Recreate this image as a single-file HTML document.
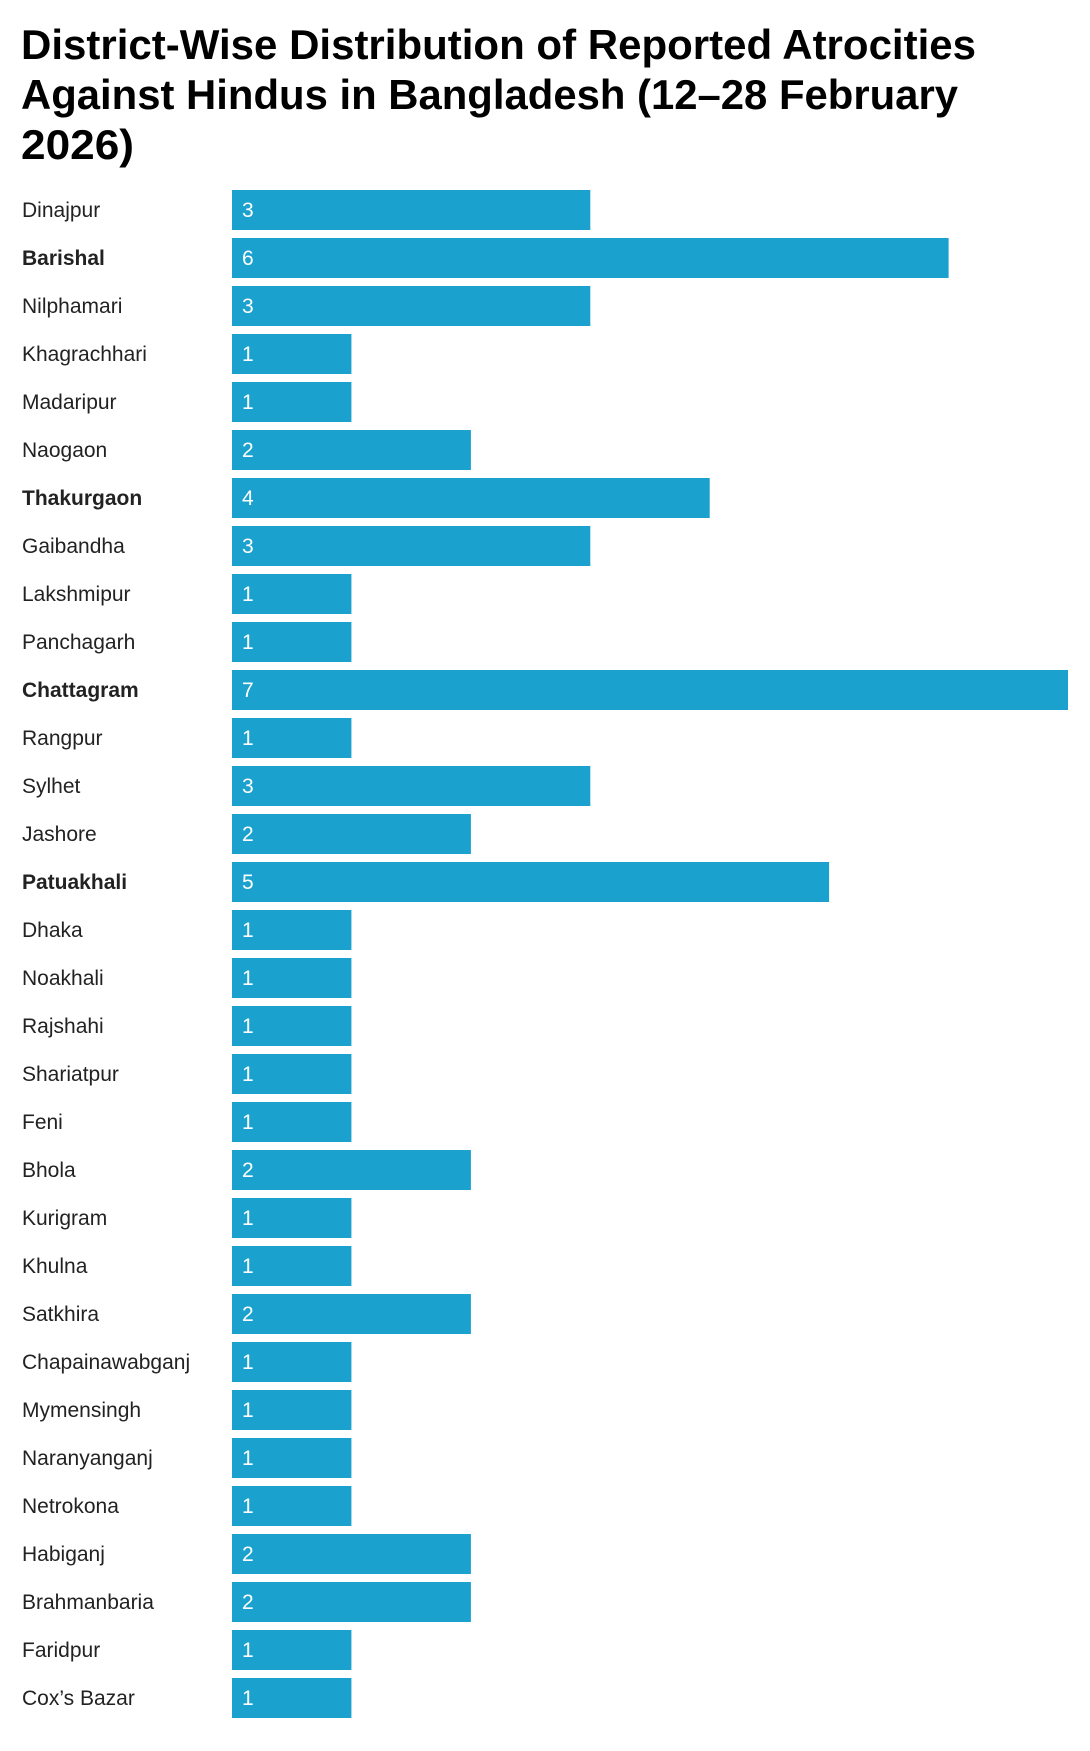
<!DOCTYPE html>
<html><head><meta charset="utf-8"><style>
html,body{margin:0;padding:0;background:#fff;}
svg{display:block;font-family:"Liberation Sans",Arial,sans-serif;}
.l{font-size:21px;fill:#222;}
.b{font-weight:bold;}
.v{font-size:21px;fill:#fff;}
rect{fill:#1aa1cd;}
</style></head><body>
<svg width="1090" height="1751" viewBox="0 0 1090 1751" xmlns="http://www.w3.org/2000/svg">
<g font-weight="bold" font-size="42" fill="#000">
<text x="21" y="59" textLength="955" lengthAdjust="spacingAndGlyphs">District-Wise Distribution of Reported Atrocities</text>
<text x="21" y="109" textLength="937" lengthAdjust="spacingAndGlyphs">Against Hindus in Bangladesh (12–28 February</text>
<text x="21" y="159" textLength="113" lengthAdjust="spacingAndGlyphs">2026)</text>
</g>
<text class="l" x="22" y="217">Dinajpur</text><rect x="232" y="190" width="358.3" height="40"/><text class="v" x="242" y="217">3</text>
<text class="l b" x="22" y="265">Barishal</text><rect x="232" y="238" width="716.6" height="40"/><text class="v" x="242" y="265">6</text>
<text class="l" x="22" y="313">Nilphamari</text><rect x="232" y="286" width="358.3" height="40"/><text class="v" x="242" y="313">3</text>
<text class="l" x="22" y="361">Khagrachhari</text><rect x="232" y="334" width="119.4" height="40"/><text class="v" x="242" y="361">1</text>
<text class="l" x="22" y="409">Madaripur</text><rect x="232" y="382" width="119.4" height="40"/><text class="v" x="242" y="409">1</text>
<text class="l" x="22" y="457">Naogaon</text><rect x="232" y="430" width="238.9" height="40"/><text class="v" x="242" y="457">2</text>
<text class="l b" x="22" y="505">Thakurgaon</text><rect x="232" y="478" width="477.7" height="40"/><text class="v" x="242" y="505">4</text>
<text class="l" x="22" y="553">Gaibandha</text><rect x="232" y="526" width="358.3" height="40"/><text class="v" x="242" y="553">3</text>
<text class="l" x="22" y="601">Lakshmipur</text><rect x="232" y="574" width="119.4" height="40"/><text class="v" x="242" y="601">1</text>
<text class="l" x="22" y="649">Panchagarh</text><rect x="232" y="622" width="119.4" height="40"/><text class="v" x="242" y="649">1</text>
<text class="l b" x="22" y="697">Chattagram</text><rect x="232" y="670" width="836" height="40"/><text class="v" x="242" y="697">7</text>
<text class="l" x="22" y="745">Rangpur</text><rect x="232" y="718" width="119.4" height="40"/><text class="v" x="242" y="745">1</text>
<text class="l" x="22" y="793">Sylhet</text><rect x="232" y="766" width="358.3" height="40"/><text class="v" x="242" y="793">3</text>
<text class="l" x="22" y="841">Jashore</text><rect x="232" y="814" width="238.9" height="40"/><text class="v" x="242" y="841">2</text>
<text class="l b" x="22" y="889">Patuakhali</text><rect x="232" y="862" width="597.1" height="40"/><text class="v" x="242" y="889">5</text>
<text class="l" x="22" y="937">Dhaka</text><rect x="232" y="910" width="119.4" height="40"/><text class="v" x="242" y="937">1</text>
<text class="l" x="22" y="985">Noakhali</text><rect x="232" y="958" width="119.4" height="40"/><text class="v" x="242" y="985">1</text>
<text class="l" x="22" y="1033">Rajshahi</text><rect x="232" y="1006" width="119.4" height="40"/><text class="v" x="242" y="1033">1</text>
<text class="l" x="22" y="1081">Shariatpur</text><rect x="232" y="1054" width="119.4" height="40"/><text class="v" x="242" y="1081">1</text>
<text class="l" x="22" y="1129">Feni</text><rect x="232" y="1102" width="119.4" height="40"/><text class="v" x="242" y="1129">1</text>
<text class="l" x="22" y="1177">Bhola</text><rect x="232" y="1150" width="238.9" height="40"/><text class="v" x="242" y="1177">2</text>
<text class="l" x="22" y="1225">Kurigram</text><rect x="232" y="1198" width="119.4" height="40"/><text class="v" x="242" y="1225">1</text>
<text class="l" x="22" y="1273">Khulna</text><rect x="232" y="1246" width="119.4" height="40"/><text class="v" x="242" y="1273">1</text>
<text class="l" x="22" y="1321">Satkhira</text><rect x="232" y="1294" width="238.9" height="40"/><text class="v" x="242" y="1321">2</text>
<text class="l" x="22" y="1369">Chapainawabganj</text><rect x="232" y="1342" width="119.4" height="40"/><text class="v" x="242" y="1369">1</text>
<text class="l" x="22" y="1417">Mymensingh</text><rect x="232" y="1390" width="119.4" height="40"/><text class="v" x="242" y="1417">1</text>
<text class="l" x="22" y="1465">Naranyanganj</text><rect x="232" y="1438" width="119.4" height="40"/><text class="v" x="242" y="1465">1</text>
<text class="l" x="22" y="1513">Netrokona</text><rect x="232" y="1486" width="119.4" height="40"/><text class="v" x="242" y="1513">1</text>
<text class="l" x="22" y="1561">Habiganj</text><rect x="232" y="1534" width="238.9" height="40"/><text class="v" x="242" y="1561">2</text>
<text class="l" x="22" y="1609">Brahmanbaria</text><rect x="232" y="1582" width="238.9" height="40"/><text class="v" x="242" y="1609">2</text>
<text class="l" x="22" y="1657">Faridpur</text><rect x="232" y="1630" width="119.4" height="40"/><text class="v" x="242" y="1657">1</text>
<text class="l" x="22" y="1705">Cox’s Bazar</text><rect x="232" y="1678" width="119.4" height="40"/><text class="v" x="242" y="1705">1</text>
</svg>
</body></html>
